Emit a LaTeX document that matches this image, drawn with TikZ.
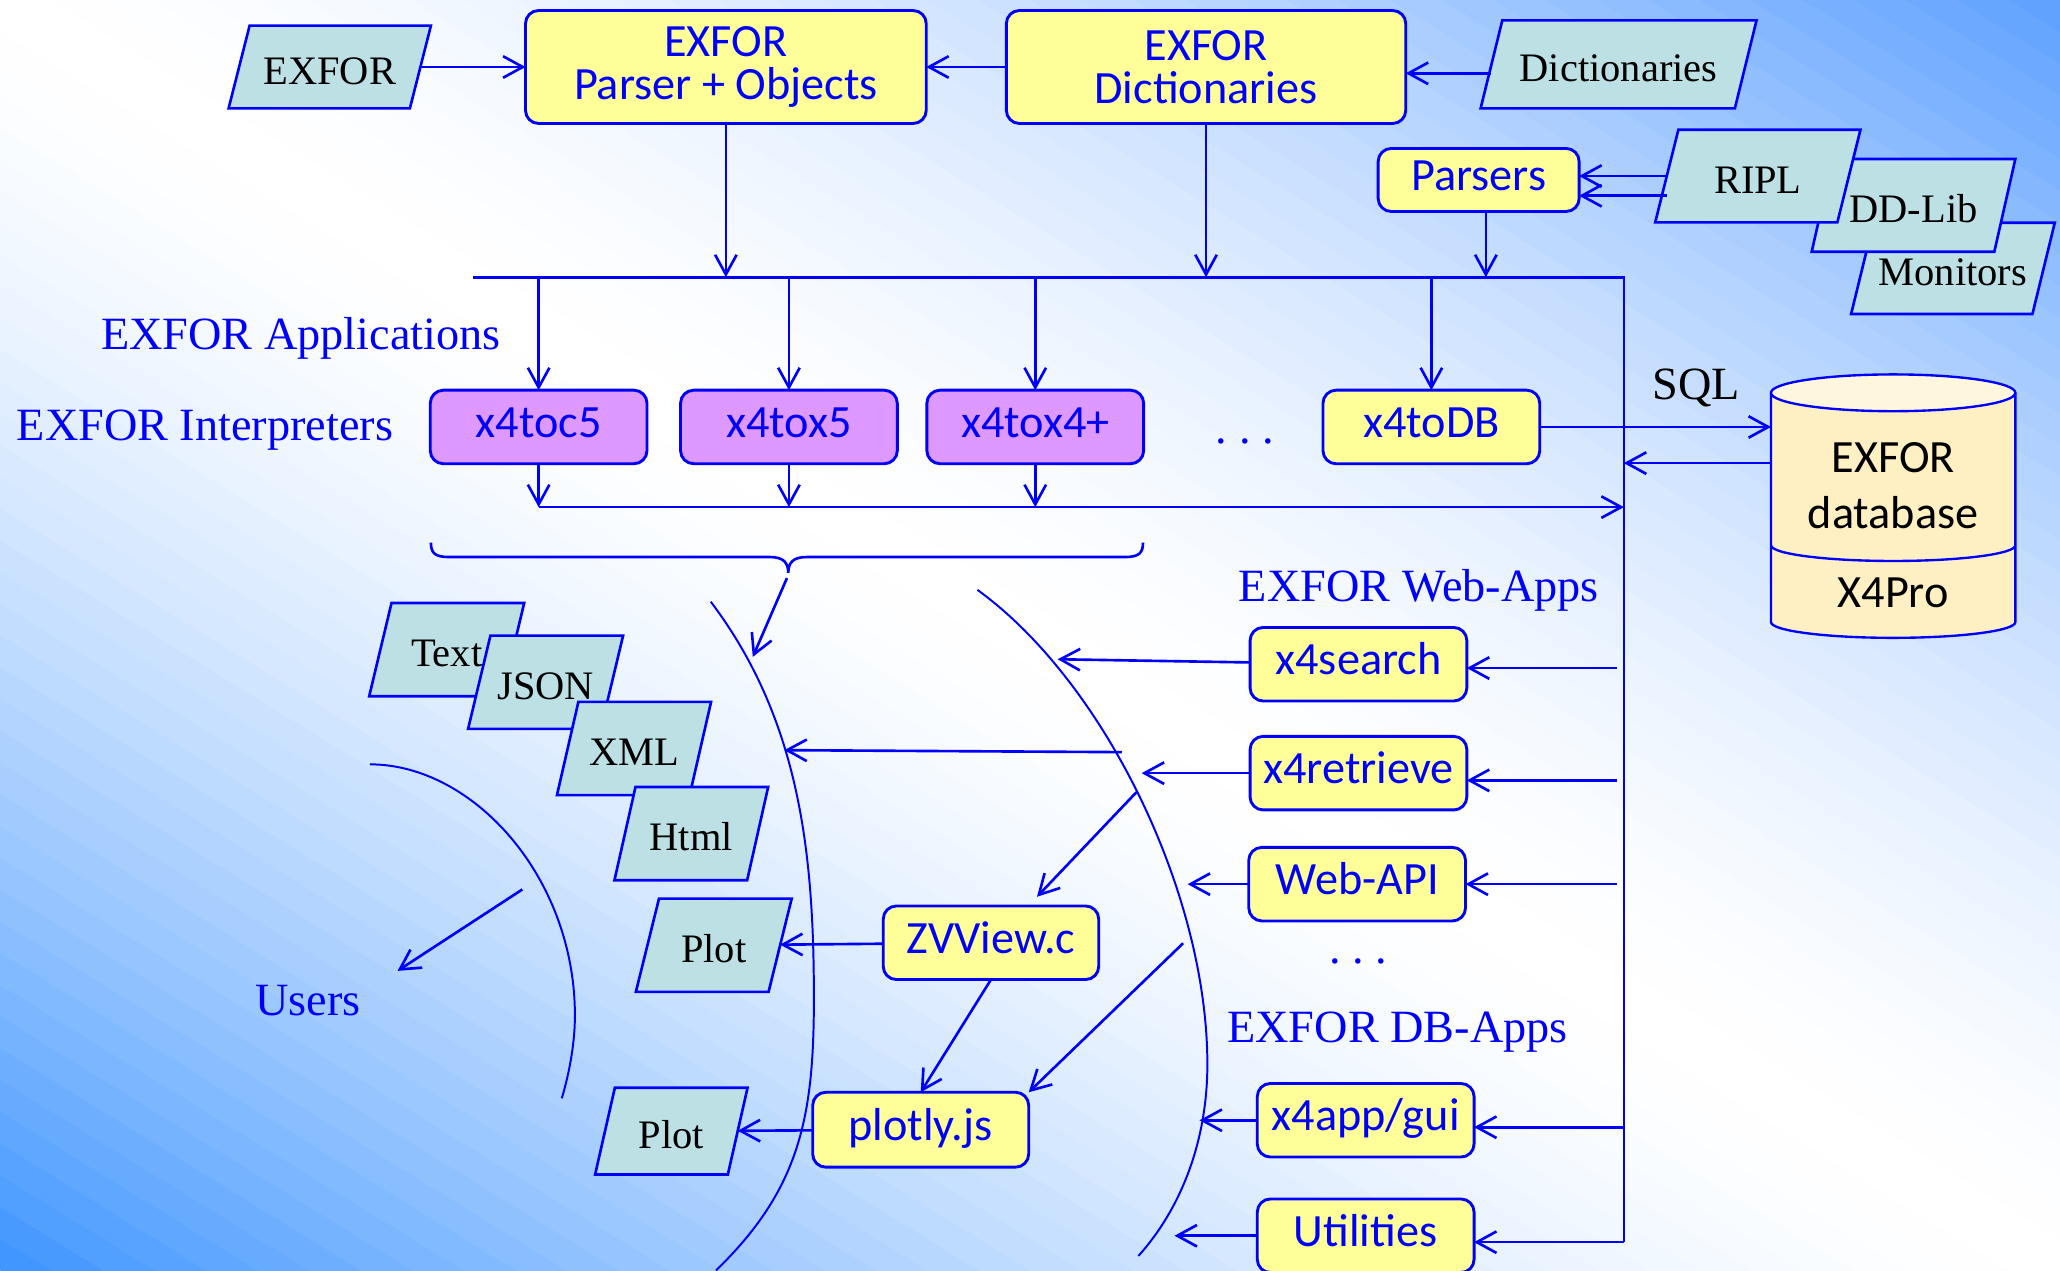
\documentclass[tikz,border=0pt]{standalone}
\usepackage{fontspec}
\setmainfont{Liberation Serif}
\newfontfamily\calfont{Carlito}
\usetikzlibrary{arrows.meta}
\newcommand\dpx{*0.5pt}
\definecolor{xblue}{RGB}{0,0,250}
\definecolor{xyellow}{RGB}{255,255,153}
\definecolor{xviolet}{RGB}{221,153,255}
\definecolor{xcyan}{RGB}{188,224,227}
\definecolor{xcream}{RGB}{255,240,196}
\definecolor{xcreamtop}{RGB}{255,246,222}
\definecolor{bgBL}{RGB}{62,148,255}
\definecolor{bgTR}{RGB}{92,160,255}
\makeatletter
\def\slantamt{0pt}
\pgfdeclareshape{slantbox}{%
  \inheritsavedanchors[from=rectangle]%
  \inheritanchorborder[from=rectangle]%
  \inheritanchor[from=rectangle]{center}%
  \inheritanchor[from=rectangle]{north}%
  \inheritanchor[from=rectangle]{south}%
  \inheritanchor[from=rectangle]{east}%
  \inheritanchor[from=rectangle]{west}%
  \inheritanchor[from=rectangle]{north east}%
  \inheritanchor[from=rectangle]{north west}%
  \inheritanchor[from=rectangle]{south east}%
  \inheritanchor[from=rectangle]{south west}%
  \inheritanchor[from=rectangle]{text}%
  \inheritanchor[from=rectangle]{base}%
  \inheritanchor[from=rectangle]{mid}%
  \backgroundpath{%
    \southwest \edef\sb@xa{\the\pgf@x}\edef\sb@ya{\the\pgf@y}%
    \northeast \edef\sb@xb{\the\pgf@x}\edef\sb@yb{\the\pgf@y}%
    \edef\sb@h{\the\dimexpr\slantamt/2\relax}%
    \pgfpathmoveto{\pgfqpoint{\dimexpr\sb@xa-\sb@h\relax}{\sb@ya}}%
    \pgfpathlineto{\pgfqpoint{\dimexpr\sb@xb-\sb@h\relax}{\sb@ya}}%
    \pgfpathlineto{\pgfqpoint{\dimexpr\sb@xb+\sb@h\relax}{\sb@yb}}%
    \pgfpathlineto{\pgfqpoint{\dimexpr\sb@xa+\sb@h\relax}{\sb@yb}}%
    \pgfpathclose
  }%
}
\makeatother
\tikzset{
  slantby/.code={\pgfmathsetlengthmacro\slantamt{#1}},
  rbox/.style={draw=xblue, line width=1.1pt, rounded corners=5pt, fill=xyellow,
    text=xblue, font=\calfont\fontsize{17.6}{16.5}\selectfont, inner sep=0pt, outer sep=0pt,
    minimum width=165\dpx, minimum height=56\dpx, text height=11.5pt, text depth=3.5pt},
  rbigbox/.style={draw=xblue, line width=1.1pt, rounded corners=5pt, fill=xyellow,
    text=xblue, font=\calfont\fontsize{17.6}{16.5}\selectfont, inner sep=0pt, outer sep=0pt,
    align=center, minimum width=305\dpx, minimum height=86\dpx},
  vbox/.style={rbox, fill=xviolet},
  pbox/.style={shape=slantbox, draw=xblue, line width=1pt, fill=xcyan, text=black,
    font=\fontsize{15.4}{16}\selectfont, inner sep=0pt, outer sep=0pt,
    minimum width=101\dpx, minimum height=71\dpx, text height=13pt, text depth=0pt},
  lbl/.style={text=xblue, font=\fontsize{17.6}{20}\selectfont, inner sep=0pt, anchor=base},
  dotsx/.style={text=xblue, font=\fontsize{17.6}{20}\selectfont, inner sep=0pt},
  ln/.style={draw=xblue, line width=1pt},
  crv/.style={draw=xblue, line width=0.75pt},
  arr/.style={draw=xblue, line width=1pt, -{Straight Barb[length=7.5pt,width=8.2pt]}},
}
\begin{document}
\begin{tikzpicture}[x=0.5pt,y=-0.5pt]
\useasboundingbox (0,0) rectangle (1568,967);
% background gradient
\begin{scope}
\clip (0,0) rectangle (1568,967);
\foreach \i in {0,...,79}{
  \pgfmathsetmacro\bgA{-1+\i/40}
  \pgfmathsetmacro\bgB{\bgA+1/40+0.004}
  \pgfmathsetmacro\bgM{\bgA+1/80}
  \pgfmathsetmacro\bgP{100*abs(\bgM)^1.6}
  \ifdim\bgM pt<0pt \colorlet{bandc}{bgBL!\bgP!white}\else\colorlet{bandc}{bgTR!\bgP!white}\fi
  \fill[bandc] ({(\bgA-1)*1568},-967) -- ({(\bgA+2)*1568},{2*967}) -- ({(\bgB+2)*1568},{2*967}) -- ({(\bgB-1)*1568},-967) -- cycle;
}
\end{scope}

% curves
\draw[crv] (541,458) .. controls (609,548) and (619.5,650) .. (619.5,760) .. controls (619.5,850) and (609,905) .. (545,967);
\draw[crv] (744,449) .. controls (840.6,519) and (919,680) .. (919,810) .. controls (919,870) and (898,921) .. (866.5,956);
\draw[crv] (281.6,581.8) .. controls (360,581.8) and (437.6,667.4) .. (437.6,773) .. controls (437.6,795) and (433,818) .. (427.6,836);
% brace
\draw[ln] (328,413) .. controls (328,421) and (331,424) .. (342,424) -- (586,424) .. controls (596,424) and (600,428) .. (600,436) .. controls (600,428) and (604,424) .. (614,424) -- (856,424) .. controls (867,424) and (870,421) .. (870,413);

% top row
\node[pbox, slantby=16\dpx, minimum width=138\dpx, minimum height=63\dpx] (exforp) at (251,51) {EXFOR};
\node[rbigbox] (parser) at (552.5,51) {EXFOR\\Parser + Objects};
\node[rbigbox, minimum width=304\dpx] (exdict) at (918,51) {EXFOR\\Dictionaries};
\node[pbox, slantby=16.5\dpx, minimum width=193.5\dpx, minimum height=67\dpx] (dictp) at (1232,49) {Dictionaries};
\node[rbox, minimum width=153\dpx, minimum height=48\dpx] (parsers) at (1125.5,137) {Parsers};
\node[pbox, slantby=17\dpx, minimum width=138\dpx, minimum height=69.5\dpx] (monit) at (1486.5,204.3) {Monitors};
\node[pbox, slantby=16\dpx, minimum width=139\dpx, minimum height=70.6\dpx] (ddlib) at (1456.5,156.3) {DD-Lib};
\node[pbox, slantby=17.6\dpx, minimum width=138.6\dpx, minimum height=70.5\dpx] (ripl) at (1338,134) {RIPL};

% interpreters
\node[vbox] (c5) at (410,325) {x4toc5};
\node[vbox] (x5) at (600.5,325) {x4tox5};
\node[vbox] (x4) at (788,325) {x4tox4+};
\node[rbox] (xdb) at (1089.5,325) {x4toDB};
\node[dotsx] (dots1) at (947.5,336) {.\ .\ .};

% database cylinder
\node[minimum width=186\dpx, minimum height=175\dpx, inner sep=0pt, outer sep=0pt] (cyl) at (1441,386) {};
\path[fill=xcream, draw=xblue, line width=0.9pt] (1348,299) -- (1348,473.5) arc[start angle=180, end angle=360, x radius=46.5pt, y radius=6pt] -- (1534,299);
\draw[xblue, line width=0.9pt, fill=xcreamtop] (1441,299) ellipse [x radius=46.5pt, y radius=7pt];
\draw[xblue, line width=0.9pt] (1348,415) arc[start angle=180, end angle=360, x radius=46.5pt, y radius=6pt];
\node[align=center, text=black, font=\calfont\fontsize{17.6}{21}\selectfont, inner sep=0pt] (cylt) at (1441,369.7) {EXFOR\\database};
\node[text=black, font=\calfont\fontsize{17.6}{21}\selectfont, inner sep=0pt] (cylx) at (1441,451.5) {X4Pro};

% apps
\node[rbox] (srch) at (1034,505.6) {x4search};
\node[rbox] (retr) at (1034,588.5) {x4retrieve};
\node[rbox] (wapi) at (1033,673) {Web-API};
\node[dotsx] (dots2) at (1034,731.5) {.\ .\ .};
\node[rbox] (gui) at (1039.5,852.7) {x4app/gui};
\node[rbox] (util) at (1039.5,940.6) {Utilities};
\node[rbox, minimum width=164\dpx] (zvv) at (754.3,717.6) {ZVView.c};
\node[rbox, minimum width=164.4\dpx, minimum height=57\dpx] (plotly) at (700.8,859.9) {plotly.js};

% outputs
\node[pbox, slantby=17\dpx] (ptext) at (340,494.5) {Text};
\node[pbox, slantby=17\dpx] (pjson) at (415.3,519.3) {JSON};
\node[pbox, slantby=16.3\dpx] (pxml) at (482.6,569.7) {XML};
\node[pbox, slantby=16\dpx] (phtml) at (526.2,634.5) {Html};
\node[pbox, slantby=17.6\dpx] (plot1) at (543.3,719.5) {Plot};
\node[pbox, slantby=15\dpx, minimum height=66\dpx] (plot2) at (511,861) {Plot};

% labels
\node[lbl] (lApp) at (229,266.4) {EXFOR Applications};
\node[lbl] (lInt) at (156,335) {EXFOR Interpreters};
\node[lbl] (lWeb) at (1080,458) {EXFOR Web-Apps};
\node[lbl] (lDB) at (1063.7,793.6) {EXFOR DB-Apps};
\node[lbl] (lUsers) at (234.5,773.3) {Users};
\node[lbl, text=black] (lSQL) at (1291,304) {SQL};

% coordinates
\coordinate (busL) at (360,211);
\coordinate (busR) at (1236,211);
\coordinate (vB) at (1236,945.5);
\coordinate (b2L) at (410,386);
\coordinate (b2R) at (1236,386);
\coordinate (ret) at (1236,352.5);
\coordinate (dd) at ([yshift=-2.4pt]exdict.east);
\coordinate (r2) at ([yshift=-7.5pt]ripl.west);
\coordinate (pd) at ([xshift=2.75pt]parsers.south);
\coordinate (rsrch) at (1231,508.5);
\coordinate (rretr) at (1231,594);
\coordinate (rwapi) at (1231,673);
\coordinate (rgui) at (1236,858);
\coordinate (rutil) at (1236,945.5);
\coordinate (tsrch) at (805,501.8);
\coordinate (tretr) at (869,588.5);
\coordinate (twapi) at (904,673);
\coordinate (tgui) at (913,852.7);
\coordinate (tutil) at (894,940.6);
\coordinate (sfmt) at (854,572.5);
\coordinate (tfmt) at (597,571);
\coordinate (szv) at (865,603);
\coordinate (spl) at (900.5,718);
\coordinate (sus) at (397.6,677);
\coordinate (tus) at (302.6,739);
\coordinate (sbr) at (599,440);
\coordinate (tbr) at (573,500);

% connectors
\draw[arr] (exforp) -- (parser);
\draw[arr] (exdict) -- (parser);
\draw[arr] (dd -| dictp.west) -- (dd);
\draw[arr] (ripl.west) -- (ripl.west -| parsers.east);
\draw[arr] (r2) -- (r2 -| parsers.east);
\draw[ln] (busL) -- (busR) -- (vB);
\draw[arr] (parser) -- (parser |- busL);
\draw[arr] (exdict) -- (exdict |- busL);
\draw[arr] (pd) -- (pd |- busL);
\draw[arr] (c5 |- busL) -- (c5);
\draw[arr] (x5 |- busL) -- (x5);
\draw[arr] (x4 |- busL) -- (x4);
\draw[arr] (xdb |- busL) -- (xdb);
\draw[arr] (c5) -- (c5 |- b2L);
\draw[arr] (x5) -- (x5 |- b2L);
\draw[arr] (x4) -- (x4 |- b2L);
\draw[arr] (b2L) -- (b2R);
\draw[arr] (xdb) -- (xdb -| cyl.west);
\draw[arr] (ret -| cyl.west) -- (ret);
\draw[arr] (rsrch) -- (rsrch -| srch.east);
\draw[arr] (rretr) -- (rretr -| retr.east);
\draw[arr] (rwapi) -- (rwapi -| wapi.east);
\draw[arr] (rgui) -- (rgui -| gui.east);
\draw[arr] (rutil) -- (rutil -| util.east);
\draw[arr] (srch) -- (tsrch);
\draw[arr] (retr) -- (tretr);
\draw[arr] (wapi) -- (twapi);
\draw[arr] (gui) -- (tgui);
\draw[arr] (util) -- (tutil);
\draw[arr] (sfmt) -- (tfmt);
\draw[arr] (szv) -- ([xshift=17.5pt,yshift=3.5pt]zvv.north);
\draw[arr] (spl) -- (plotly.north east);
\draw[arr] (zvv.south) -- (plotly.north);
\draw[arr] (zvv) -- (plot1);
\draw[arr] (plotly) -- (plot2);
\draw[arr] (sus) -- (tus);
\draw[arr] (sbr) -- (tbr);
\end{tikzpicture}
\end{document}
